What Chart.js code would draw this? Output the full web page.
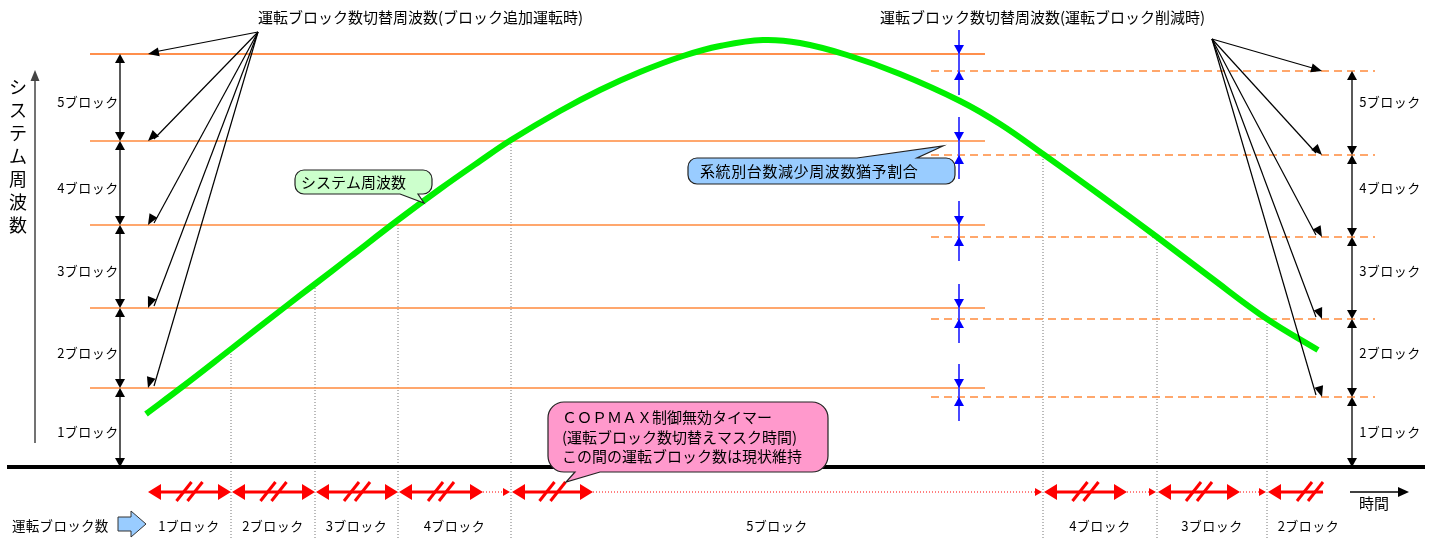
<!DOCTYPE html>
<html lang="ja">
<head>
<meta charset="utf-8">
<title>運転ブロック数切替</title>
<script src="https://cdn.jsdelivr.net/npm/chart.js@4.4.1/dist/chart.umd.min.js"></script>
<style>
  html, body { margin: 0; padding: 0; background: #fff; }
  #wrap { position: relative; width: 1443px; height: 538px; }
</style>
</head>
<body>
<div id="wrap"><canvas id="chart"></canvas></div>
<script>
// ── Data (time / frequency in arbitrary units, frequency measured above the base line) ──
const curveTime = [146, 182, 231, 285, 315, 350, 398, 440, 480, 511, 560, 600, 640, 683, 720, 763, 800, 847, 900, 960, 1000, 1043, 1100, 1157, 1210, 1267, 1318];
const curveFreq = [53, 80, 118, 160, 183, 210, 247, 278, 306, 327, 356, 377, 395, 411, 421, 427, 424, 412, 393, 366, 343, 313, 272, 230, 190, 148, 117];

const upThresholds = [413, 326, 242, 159, 79];     // ブロック追加運転時
const downThresholds = [396, 312, 230, 148, 70];   // 運転ブロック削減時
const levelLabels = ['5ブロック', '4ブロック', '3ブロック', '2ブロック', '1ブロック'];

const switchTimes = [231, 315, 398, 511, 1043, 1157, 1267];
const switchFreq = [118, 183, 248, 327, 313, 230, 148];
const maskStart = [147, 231, 315, 398, 511, 1043, 1157, 1267];
const maskEnd = [231, 315, 398, 483, 593, 1127, 1240, 1323];
const runBlocks = ['1ブロック', '2ブロック', '3ブロック', '4ブロック', '5ブロック', '4ブロック', '3ブロック', '2ブロック'];
const runEnd = 1350;

const upLine = [90, 985], downLine = [931, 1375], baseLine = [7, 1425];
const timeMin = 0, timeMax = 1443, freqMin = -71, freqMax = 467;

const FONT = '"Noto Sans CJK JP", "Noto Sans", sans-serif';
const ORANGE = '#ff8a3d';

// ── Datasets ──
const datasets = [];
datasets.push({
    data: curveTime.map((t, i) => ({ x: t, y: curveFreq[i] })),
    borderColor: '#00f000', borderWidth: 6, tension: 0.4, order: 0
});
datasets.push({
    data: [{ x: baseLine[0], y: 0 }, { x: baseLine[1], y: 0 }],
    borderColor: '#000', borderWidth: 4, order: 1
});
upThresholds.forEach((f, i) => datasets.push({
    data: [{ x: upLine[0], y: f }, { x: upLine[1], y: f }],
    borderColor: i === 0 ? '#ff6a10' : ORANGE, borderWidth: 1.5, order: 2
}));
downThresholds.forEach(f => datasets.push({
    data: [{ x: downLine[0], y: f }, { x: downLine[1], y: f }],
    borderColor: ORANGE, borderWidth: 1.5, borderDash: [8, 5], order: 2
}));
switchTimes.forEach((t, i) => datasets.push({
    data: [{ x: t, y: freqMin }, { x: t, y: switchFreq[i] }],
    borderColor: '#777', borderWidth: 1, borderDash: [1, 2], order: 3
}));
datasets.forEach(d => { d.showLine = true; d.pointRadius = 0; d.fill = false; });

// ── Drawing helpers ──
function head(ctx, x1, y1, x2, y2, len, half, color) {
    const a = Math.atan2(y2 - y1, x2 - x1), c = Math.cos(a), s = Math.sin(a);
    ctx.fillStyle = color;
    ctx.beginPath();
    ctx.moveTo(x2, y2);
    ctx.lineTo(x2 - len * c + half * s, y2 - len * s - half * c);
    ctx.lineTo(x2 - len * c - half * s, y2 - len * s + half * c);
    ctx.closePath();
    ctx.fill();
}
function seg(ctx, x1, y1, x2, y2, color, width, dash) {
    ctx.strokeStyle = color; ctx.lineWidth = width; ctx.setLineDash(dash || []);
    ctx.beginPath(); ctx.moveTo(x1, y1); ctx.lineTo(x2, y2); ctx.stroke();
    ctx.setLineDash([]);
}
function text(ctx, str, x, y, size, align, spacing) {
    ctx.font = size + 'px ' + FONT;
    ctx.textAlign = align || 'left';
    ctx.textBaseline = 'middle';
    ctx.letterSpacing = spacing || '0px';
    ctx.fillStyle = '#000';
    ctx.fillText(str, x, y);
    ctx.letterSpacing = '0px';
}
// rounded box with a wedge tail on the top or bottom edge
function callout(ctx, x, y, w, h, r, edge, a, b, tx, ty, fill) {
    ctx.beginPath();
    ctx.moveTo(x + r, y);
    if (edge === 'top') { ctx.lineTo(a, y); ctx.lineTo(tx, ty); ctx.lineTo(b, y); }
    ctx.arcTo(x + w, y, x + w, y + h, r);
    ctx.arcTo(x + w, y + h, x, y + h, r);
    if (edge === 'bottom') { ctx.lineTo(b, y + h); ctx.lineTo(tx, ty); ctx.lineTo(a, y + h); }
    ctx.arcTo(x, y + h, x, y, r);
    ctx.arcTo(x, y, x + w, y, r);
    ctx.closePath();
    ctx.fillStyle = fill; ctx.fill();
    ctx.strokeStyle = '#222'; ctx.lineWidth = 1.2; ctx.stroke();
}

const overlay = {
    id: 'overlay',
    afterDatasetsDraw(chart) {
        const ctx = chart.ctx;
        const X = v => chart.scales.x.getPixelForValue(v);
        const Y = v => chart.scales.y.getPixelForValue(v);
        ctx.save();
        ctx.lineCap = 'butt';

        // y axis arrow + title
        seg(ctx, 35, 443, 35, 78, '#444', 1.5);
        head(ctx, 35, 90, 35, 70, 11, 4.5, '#444');
        'システム周波数'.split('').forEach((ch, i) => text(ctx, ch, 18, 87 + i * 23, 18, 'center'));

        // block ranges left (add) and right (reduce); labels share the left rows
        const leftLv = [...upThresholds, 0], rightLv = [...downThresholds, 0];
        [[leftLv, 120, 88], [rightLv, 1352, 1390]].forEach(([lv, ax, lx]) => {
            for (let i = 0; i < 5; i++) {
                const y1 = Y(lv[i]), y2 = Y(lv[i + 1]);
                seg(ctx, X(ax), y1 + 2, X(ax), y2 - 2, '#000', 1.3);
                head(ctx, X(ax), y2, X(ax), y1, 9, 5, '#000');
                head(ctx, X(ax), y1, X(ax), y2, 9, 5, '#000');
                const ly = (Y(leftLv[i]) + Y(leftLv[i + 1])) / 2 + 5;
                text(ctx, levelLabels[i], X(lx), ly, 13, 'center', '0.5px');
            }
        });

        // annotation texts + pointers
        text(ctx, '運転ブロック数切替周波数(ブロック追加運転時)', 258, 17, 15);
        text(ctx, '運転ブロック数切替周波数(運転ブロック削減時)', 880, 17, 15);
        upThresholds.forEach(f => {
            seg(ctx, 258, 32, X(148) + 6, Y(f) - 2, '#000', 1.2);
            head(ctx, 258, 32, X(148), Y(f), 11, 4.5, '#000');
        });
        downThresholds.forEach(f => {
            seg(ctx, 1212, 39, X(1322) - 6, Y(f) - 2, '#000', 1.2);
            head(ctx, 1212, 39, X(1322), Y(f), 11, 4.5, '#000');
        });

        // blue margin arrows between up / down thresholds
        const bx = X(959);
        upThresholds.forEach((f, i) => {
            const ys = Y(f), yd = Y(downThresholds[i]);
            seg(ctx, bx, ys - 24, bx, yd + 24, '#4a4aff', 2);
            head(ctx, bx, ys - 20, bx, ys, 9, 5, '#0000ff');
            head(ctx, bx, yd + 20, bx, yd, 9, 5, '#0000ff');
        });

        // mask timer arrows
        const ry = Y(-25);
        maskStart.forEach((t, i) => {
            const last = i === maskStart.length - 1;
            const x1 = X(t) + 1, x2 = X(maskEnd[i]);
            seg(ctx, x1 + 8, ry, last ? x2 : x2 - 8, ry, '#ff0000', 3);
            head(ctx, x2, ry, x1, ry, 13, 8, '#ff0000');
            if (!last) head(ctx, x1, ry, x2, ry, 13, 8, '#ff0000');
            const cx = last ? x2 - 13 : (x1 + x2) / 2;
            [-5.5, 5.5].forEach(d => seg(ctx, cx + d - 7.5, ry + 9, cx + d + 7.5, ry - 10, '#ff0000', 3));
            if (!last) {
                const nx = X(maskStart[i + 1]);
                if (nx - x2 > 2) {
                    seg(ctx, x2, ry, nx - 6, ry, '#ff0000', 1, [1, 2]);
                    head(ctx, x2, ry, nx - 1, ry, 7, 4, '#ff0000');
                }
            }
        });

        // time axis
        seg(ctx, 1350, ry, 1400, ry, '#000', 1.5);
        head(ctx, 1350, ry, 1409, ry, 11, 5, '#000');
        text(ctx, '時間', 1374, 503, 15, 'center');

        // running block row
        text(ctx, '運転ブロック数', 12, 526, 13.5, 'left', '0.3px');
        ctx.beginPath();
        [[118, 517], [131, 517], [131, 511], [146, 524], [131, 537], [131, 531], [118, 531]].forEach(([x, y], k) => k ? ctx.lineTo(x, y) : ctx.moveTo(x, y));
        ctx.closePath();
        ctx.fillStyle = '#99ccff'; ctx.fill();
        ctx.strokeStyle = '#333'; ctx.lineWidth = 1; ctx.stroke();
        runBlocks.forEach((lb, i) => {
            const s = i === 0 ? maskStart[0] : switchTimes[i - 1];
            const e = i < switchTimes.length ? switchTimes[i] : runEnd;
            text(ctx, lb, X((s + e) / 2), 526, 13, 'center', '0.5px');
        });

        // callouts
        callout(ctx, 295, 170, 137, 24, 9, 'bottom', 400, 418, X(424), 203, '#ccffcc');
        text(ctx, 'システム周波数', 301, 182, 15);
        callout(ctx, 688, 158, 267, 26, 9, 'top', 857, 917, 943, 146, '#99ccff');
        text(ctx, '系統別台数減少周波数猶予割合', 700, 171, 15, 'left', '0.6px');
        callout(ctx, 548, 402, 280, 70, 16, 'bottom', 575, 600, 566, 482, '#ff99cc');
        text(ctx, 'ＣＯＰＭＡＸ制御無効タイマー', 562, 417, 15);
        text(ctx, '(運転ブロック数切替えマスク時間)', 562, 437, 15);
        text(ctx, 'この間の運転ブロック数は現状維持', 562, 456, 15);

        ctx.restore();
    }
};

new Chart(document.getElementById('chart'), {
    type: 'scatter',
    data: { datasets },
    options: {
        responsive: true, maintainAspectRatio: false, animation: false, events: [],
        layout: { padding: 0 },
        plugins: { legend: { display: false }, tooltip: { enabled: false } },
        scales: {
            x: { type: 'linear', display: false, min: timeMin, max: timeMax },
            y: { type: 'linear', display: false, min: freqMin, max: freqMax }
        }
    },
    plugins: [overlay]
});
</script>
</body>
</html>
